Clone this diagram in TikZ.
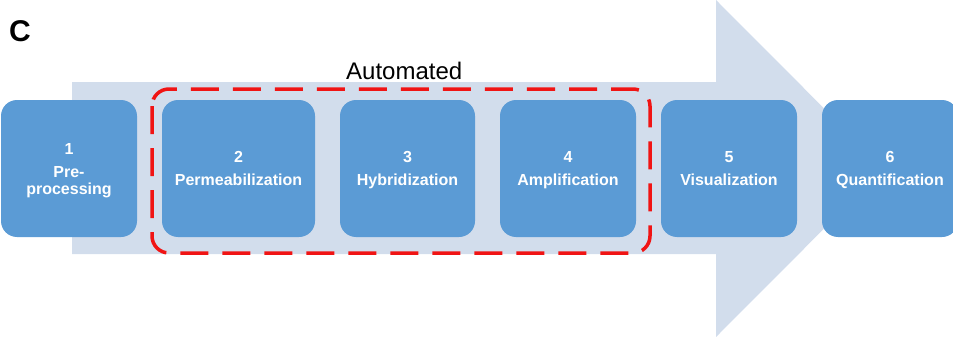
\documentclass[tikz,border=0pt]{standalone}
\usepackage{fontspec}
\setmainfont{Liberation Sans}
\definecolor{boxblue}{RGB}{91,155,213}
\definecolor{arrowbg}{RGB}{210,221,236}
\definecolor{autored}{RGB}{240,20,20}
\begin{document}
\begin{tikzpicture}[x=1pt,y=-1pt,
  stepbox/.style={fill=boxblue, draw=none, rounded corners=16pt, minimum height=137pt,
    inner sep=0pt, align=center, text=white, font=\fontsize{16}{17}\selectfont\bfseries,
    text height=34.5pt, text depth=0pt},
  autobox/.style={draw=autored, line width=3.5pt, rounded corners=17pt,
    dash pattern=on 28pt off 14pt}]
\useasboundingbox (0,0) rectangle (953,337);
\clip (0,0) rectangle (953,337);
% big arrow
\fill[arrowbg] (72,82) -- (716,82) -- (716,0) -- (884,168.5) -- (716,337) -- (716,254) -- (72,254) -- cycle;
% boxes
\node[stepbox, minimum width=136pt, text height=51.5pt] (b1) at (69,168.5) {1\\[6pt]Pre-\\processing};
\node[stepbox, minimum width=153pt] (b2) at (238.5,168.5) {2\\[6pt]Permeabilization};
\node[stepbox, minimum width=135pt] (b3) at (407.5,168.5) {3\\[6pt]Hybridization};
\node[stepbox, minimum width=136pt] (b4) at (568,168.5) {4\\[6pt]Amplification};
\node[stepbox, minimum width=136pt] (b5) at (729,168.5) {5\\[6pt]Visualization};
\node[stepbox, minimum width=136pt] (b6) at (890,168.5) {6\\[6pt]Quantification};
% automated region
\draw[autobox] (152,89) rectangle (650,253);
\node[anchor=base west, inner sep=0pt, font=\fontsize{24}{28}\selectfont] (auto) at (346,80) {Automated};
% panel label
\node[anchor=base west, inner sep=0pt, font=\fontsize{30}{34}\selectfont\bfseries] (lbl) at (9,42) {C};
\end{tikzpicture}
\end{document}
